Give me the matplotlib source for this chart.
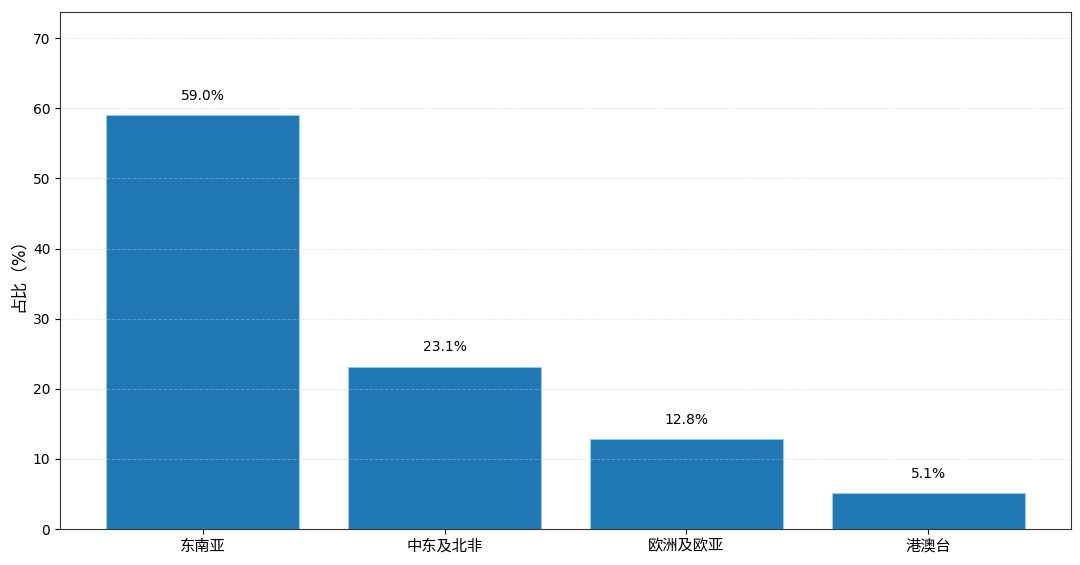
import matplotlib
matplotlib.use("Agg")
import matplotlib.pyplot as plt

plt.rcParams['font.family'] = ['DejaVu Sans', 'Noto Sans CJK SC']

categories = ['东南亚', '中东及北非', '欧洲及欧亚', '港澳台']
values = [59.0, 23.1, 12.8, 5.1]

fig = plt.figure(figsize=(10.8, 5.65), dpi=100)
ax = fig.add_axes([0.0556, 0.0637, 0.9361, 0.9151])
x = range(len(categories))
bars = ax.bar(x, values, width=0.8, color='#1f77b4', edgecolor='#9ecae1', linewidth=0.8, zorder=2)
ax.set_xticks(list(x))
ax.set_xticklabels(categories, fontsize=11)
ax.set_ylim(0, max(values) * 1.25)
ax.set_ylabel('占比（%）', fontsize=12)
ax.tick_params(axis='y', labelsize=10)
ax.yaxis.grid(True, linestyle='--', color='#cccccc', alpha=0.4, linewidth=0.7, zorder=3)
ax.set_axisbelow(False)
for b, v in zip(bars, values):
    ax.text(b.get_x() + b.get_width() / 2, v + 1.8, f'{v:.1f}%', ha='center', va='bottom', fontsize=10)
for s in ax.spines.values():
    s.set_color('#333333')
fig.savefig('out.png', dpi=100)
